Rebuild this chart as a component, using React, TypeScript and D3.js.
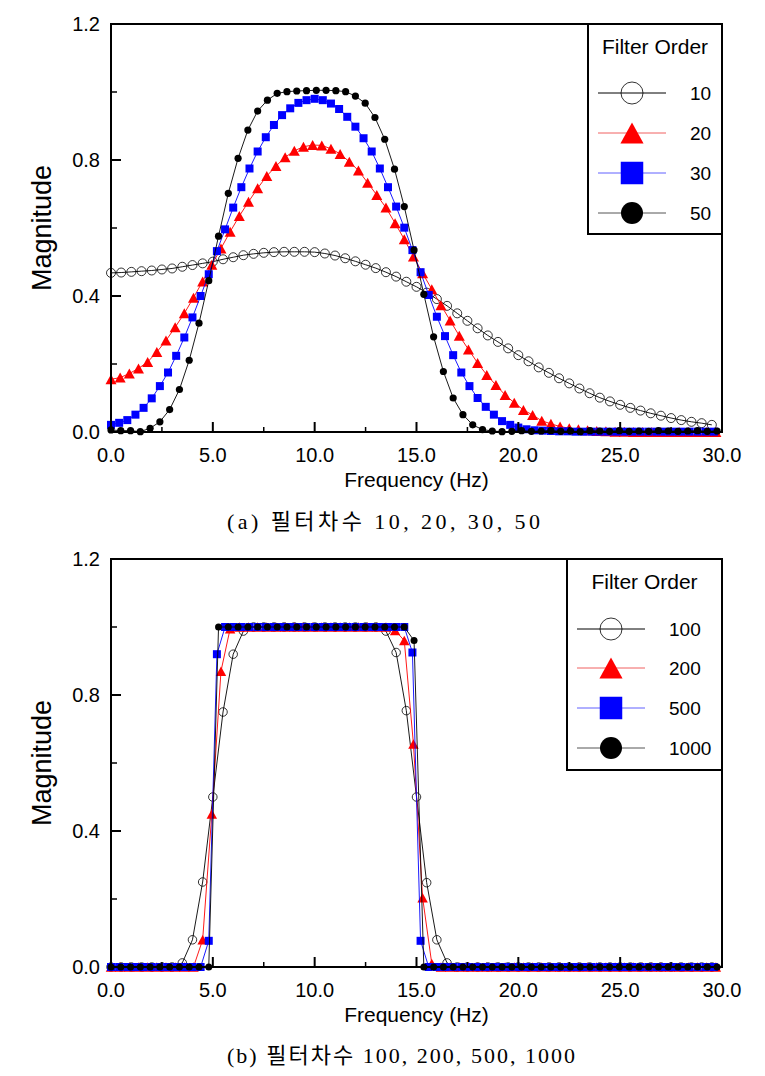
import React from 'react';
import * as d3 from 'd3';

// ---------- data ----------
const FREQ_TICKS = [0, 5, 10, 15, 20, 25, 30];
const FREQ_MINOR = [2.5, 7.5, 12.5, 17.5, 22.5, 27.5];
const MAG_TICKS = [0, 0.4, 0.8, 1.2];
const MAG_MINOR = [0.2, 0.6, 1.0];

// frequency step (Hz) of each series' samples
const STEPS = [0.5, 0.45, 0.4, 0.48];

const ORDER10 = [
  0.468, 0.469, 0.471, 0.473, 0.475, 0.478, 0.481, 0.486, 0.491, 0.496,
  0.501, 0.508, 0.514, 0.520, 0.524, 0.527, 0.529, 0.530, 0.530, 0.530,
  0.529, 0.525, 0.519, 0.511, 0.502, 0.492, 0.482, 0.470, 0.457, 0.442,
  0.427, 0.410, 0.391, 0.371, 0.349, 0.327, 0.305, 0.284, 0.265, 0.246,
  0.226, 0.208, 0.190, 0.174, 0.158, 0.143, 0.128, 0.114, 0.101, 0.090,
  0.080, 0.071, 0.063, 0.055, 0.048, 0.041, 0.035, 0.030, 0.026, 0.021,
];
const ORDER20 = [
  0.155, 0.160, 0.172, 0.187, 0.206, 0.235, 0.269, 0.308, 0.349, 0.395,
  0.443, 0.492, 0.540, 0.589, 0.635, 0.677, 0.717, 0.753, 0.782, 0.808,
  0.827, 0.839, 0.844, 0.843, 0.833, 0.818, 0.795, 0.769, 0.733, 0.697,
  0.660, 0.614, 0.567, 0.516, 0.467, 0.420, 0.373, 0.328, 0.283, 0.243,
  0.203, 0.168, 0.138, 0.109, 0.086, 0.065, 0.050, 0.033, 0.024, 0.016,
  0.011, 0.008, 0.005, 0.003, 0.002, 0.001, 0.001, 0.000, 0.000, 0.000,
  0.000, 0.000, 0.000, 0.000, 0.000, 0.000, 0.000,
];
const ORDER30 = [
  0.021, 0.027, 0.035, 0.051, 0.071, 0.099, 0.135, 0.175, 0.224, 0.278,
  0.337, 0.400, 0.464, 0.532, 0.596, 0.660, 0.720, 0.775, 0.825, 0.867,
  0.903, 0.932, 0.952, 0.968, 0.976, 0.980, 0.976, 0.966, 0.950, 0.927,
  0.898, 0.864, 0.825, 0.775, 0.720, 0.663, 0.601, 0.535, 0.470, 0.403,
  0.339, 0.282, 0.226, 0.175, 0.135, 0.100, 0.074, 0.051, 0.032, 0.021,
  0.013, 0.008, 0.005, 0.004, 0.003, 0.002, 0.002, 0.001, 0.001, 0.001,
  0.001, 0.001, 0.001, 0.001, 0.001, 0.001, 0.001, 0.001, 0.001, 0.001,
  0.001, 0.001, 0.001, 0.001, 0.001,
];
const ORDER50 = [
  0.006, 0.004, 0.004, 0.001, 0.011, 0.030, 0.066, 0.125, 0.211, 0.320,
  0.445, 0.576, 0.702, 0.805, 0.888, 0.944, 0.976, 0.996, 1.001, 1.003,
  1.004, 1.005, 1.005, 1.004, 1.001, 0.988, 0.967, 0.925, 0.861, 0.773,
  0.663, 0.535, 0.405, 0.280, 0.178, 0.100, 0.051, 0.021, 0.007, 0.003,
  0.001, 0.002, 0.004, 0.002, 0.003, 0.004, 0.002, 0.003, 0.001, 0.004,
  0.003, 0.002, 0.004, 0.002, 0.003, 0.002, 0.004, 0.003, 0.002, 0.003,
  0.004, 0.002, 0.003,
];

const ORDER100 = [
  0, 0, 0, 0, 0, 0, 0, 0.012, 0.08, 0.25,
  0.5, 0.75, 0.92, 0.988, 1, 1, 1, 1, 1, 1,
  1, 1, 1, 1, 1, 1, 1, 0.988, 0.925, 0.754,
  0.5, 0.248, 0.08, 0.012, 0, 0, 0, 0, 0, 0,
  0, 0, 0, 0, 0, 0, 0, 0, 0, 0,
  0, 0, 0, 0, 0, 0, 0, 0, 0, 0,
];
const ORDER200 = [
  0, 0, 0, 0, 0, 0, 0, 0, 0, 0,
  0.08, 0.45, 0.87, 0.995, 1, 1, 1, 1, 1, 1,
  1, 1, 1, 1, 1, 1, 1, 1, 1, 1,
  1, 0.99, 0.96, 0.656, 0.204, 0.01, 0, 0, 0, 0,
  0, 0, 0, 0, 0, 0, 0, 0, 0, 0,
  0, 0, 0, 0, 0, 0, 0, 0, 0, 0,
  0, 0, 0, 0, 0, 0, 0,
];
const ORDER500 = [
  0, 0, 0, 0, 0, 0, 0, 0, 0, 0,
  0, 0, 0.077, 0.92, 1, 1, 1, 1, 1, 1,
  1, 1, 1, 1, 1, 1, 1, 1, 1, 1,
  1, 1, 1, 1, 1, 1, 1, 0.925, 0.077, 0,
  0, 0, 0, 0, 0, 0, 0, 0, 0, 0,
  0, 0, 0, 0, 0, 0, 0, 0, 0, 0,
  0, 0, 0, 0, 0, 0, 0, 0, 0, 0,
  0, 0, 0, 0, 0,
];
const ORDER1000 = [
  0, 0, 0, 0, 0, 0, 0, 0, 0, 0,
  0, 1, 1, 1, 1, 1, 1, 1, 1, 1,
  1, 1, 1, 1, 1, 1, 1, 1, 1, 1,
  1, 0.96, 0, 0, 0, 0, 0, 0, 0, 0,
  0, 0, 0, 0, 0, 0, 0, 0, 0, 0,
  0, 0, 0, 0, 0, 0, 0, 0, 0, 0,
  0, 0, 0,
];

const LABELS_A = ['10', '20', '30', '50'];
const LABELS_B = ['100', '200', '500', '1000'];
const CAPTION_A = '(a) 필터차수 10, 20, 30, 50';
const CAPTION_B = '(b) 필터차수 100, 200, 500, 1000';

type Shape = 'circle' | 'triangle' | 'square' | 'dot';
const SHAPES: Shape[] = ['circle', 'triangle', 'square', 'dot'];
const COLORS = ['#000000', '#ff0000', '#0000ff', '#000000'];
const LEGEND_LINE_COLORS = ['#000000', '#f06060', '#6060ff', '#555555'];

const FONT = "'Liberation Sans', Arial, sans-serif";

function Marker({ shape, cx, cy, s, color }: { shape: Shape; cx: number; cy: number; s: number; color: string }) {
  if (shape === 'circle') {
    return <circle cx={cx} cy={cy} r={s / 2} fill="none" stroke="#000" strokeWidth={0.8} />;
  }
  if (shape === 'dot') {
    return <circle cx={cx} cy={cy} r={s / 2} fill={color} />;
  }
  if (shape === 'square') {
    return <rect x={cx - s / 2} y={cy - s / 2} width={s} height={s} fill={color} />;
  }
  const w = s * 1.1;
  const h = s;
  return (
    <path
      d={`M${cx},${cy - h / 2}L${cx + w / 2},${cy + h / 2}L${cx - w / 2},${cy + h / 2}Z`}
      fill={color}
    />
  );
}

interface ChartProps {
  top: number;
  bottom: number;
  series: number[][];
  sizes: number[];
  labels: string[];
  legend: { x: number; y: number; w: number; h: number; titleY: number; rowsY: number[]; lineX0: number; lineX1: number; labelX: number };
  caption: string;
  captionY: number;
  captionLen: number;
}

const LEFT = 111;
const RIGHT = 722;

function Chart({ top, bottom, series, sizes, labels, legend, caption, captionY, captionLen }: ChartProps) {
  const x = d3.scaleLinear().domain([0, 30]).range([LEFT, RIGHT]);
  const y = d3.scaleLinear().domain([0, 1.2]).range([bottom, top]);
  const line = d3
    .line<[number, number]>()
    .x((d) => x(d[0]))
    .y((d) => y(d[1]));

  const pts = series.map((vals, si) => vals.map((v, i) => [i * STEPS[si], v] as [number, number]));
  const legendSizes = [22, 21, 22.5, 22];

  return (
    <g>
      {/* series lines & markers */}
      {pts.map((p, si) => (
        <g key={si}>
          <path d={line(p) || ''} fill="none" stroke={COLORS[si]} strokeWidth={0.9} />
          {p.map((d, i) => (
            <Marker key={i} shape={SHAPES[si]} cx={x(d[0])} cy={y(d[1])} s={sizes[si]} color={COLORS[si]} />
          ))}
        </g>
      ))}

      {/* frame */}
      <rect x={LEFT} y={top} width={RIGHT - LEFT} height={bottom - top} fill="none" stroke="#000" strokeWidth={2} />

      {/* x ticks */}
      {FREQ_TICKS.map((t) => (
        <g key={'xt' + t}>
          <line x1={x(t)} x2={x(t)} y1={bottom} y2={bottom - 10} stroke="#000" strokeWidth={2} />
          <text x={x(t)} y={bottom + 30} textAnchor="middle" fontFamily={FONT} fontSize={20}>
            {t.toFixed(1)}
          </text>
        </g>
      ))}
      {FREQ_MINOR.map((t) => (
        <line key={'xm' + t} x1={x(t)} x2={x(t)} y1={bottom} y2={bottom - 5} stroke="#000" strokeWidth={1.5} />
      ))}

      {/* y ticks */}
      {MAG_TICKS.map((t) => (
        <g key={'yt' + t}>
          <line x1={LEFT} x2={LEFT + 10} y1={y(t)} y2={y(t)} stroke="#000" strokeWidth={2} />
          <text x={100} y={y(t)} dy="0.36em" textAnchor="end" fontFamily={FONT} fontSize={20}>
            {t.toFixed(1)}
          </text>
        </g>
      ))}
      {MAG_MINOR.map((t) => (
        <line key={'ym' + t} x1={LEFT} x2={LEFT + 6} y1={y(t)} y2={y(t)} stroke="#000" strokeWidth={1.5} />
      ))}

      {/* axis titles */}
      <text x={(LEFT + RIGHT) / 2} y={bottom + 55} textAnchor="middle" fontFamily={FONT} fontSize={21}>
        Frequency (Hz)
      </text>
      <text
        transform={`translate(51,${(top + bottom) / 2}) rotate(-90)`}
        textAnchor="middle"
        fontFamily={FONT}
        fontSize={27}
      >
        Magnitude
      </text>

      {/* legend */}
      <rect x={legend.x} y={legend.y} width={legend.w} height={legend.h} fill="#fff" stroke="#000" strokeWidth={2} />
      <text x={legend.x + legend.w / 2} y={legend.titleY} textAnchor="middle" fontFamily={FONT} fontSize={21}>
        Filter Order
      </text>
      {legend.rowsY.map((ry, si) => {
        const mx = (legend.lineX0 + legend.lineX1) / 2;
        return (
          <g key={'lg' + si}>
            <line x1={legend.lineX0} x2={legend.lineX1} y1={ry} y2={ry} stroke={LEGEND_LINE_COLORS[si]} strokeWidth={1} />
            <Marker shape={SHAPES[si]} cx={mx} cy={ry} s={legendSizes[si]} color={COLORS[si]} />
            <text x={legend.labelX} y={ry} dy="0.36em" fontFamily={FONT} fontSize={19}>
              {labels[si]}
            </text>
          </g>
        );
      })}

      {/* caption */}
      <text
        x={227}
        y={captionY}
        fontFamily="'Liberation Serif', 'Noto Sans CJK KR', serif"
        fontSize={22}
        textLength={captionLen}
        lengthAdjust="spacing"
      >
        {caption}
      </text>
    </g>
  );
}

export default function App() {
  return (
    <svg
      width={765}
      height={1076}
      viewBox="0 0 765 1076"
      style={{ position: 'absolute', left: 0, top: 0, background: '#fff' }}
    >
      <rect x={0} y={0} width={765} height={1076} fill="#fff" />
      <Chart
        top={24}
        bottom={432}
        series={[ORDER10, ORDER20, ORDER30, ORDER50]}
        sizes={[9, 10, 8, 7.2]}
        labels={LABELS_A}
        legend={{ x: 588, y: 24, w: 134, h: 210, titleY: 54, rowsY: [93, 133, 173, 213], lineX0: 598, lineX1: 666, labelX: 690 }}
        caption={CAPTION_A}
        captionY={529}
        captionLen={313}
      />
      <Chart
        top={559}
        bottom={967}
        series={[ORDER100, ORDER200, ORDER500, ORDER1000]}
        sizes={[8.5, 9.5, 8, 7]}
        labels={LABELS_B}
        legend={{ x: 567, y: 559, w: 155, h: 211, titleY: 589, rowsY: [629, 668, 708, 748], lineX0: 577, lineX1: 645, labelX: 669 }}
        caption={CAPTION_B}
        captionY={1063}
        captionLen={348}
      />
    </svg>
  );
}
